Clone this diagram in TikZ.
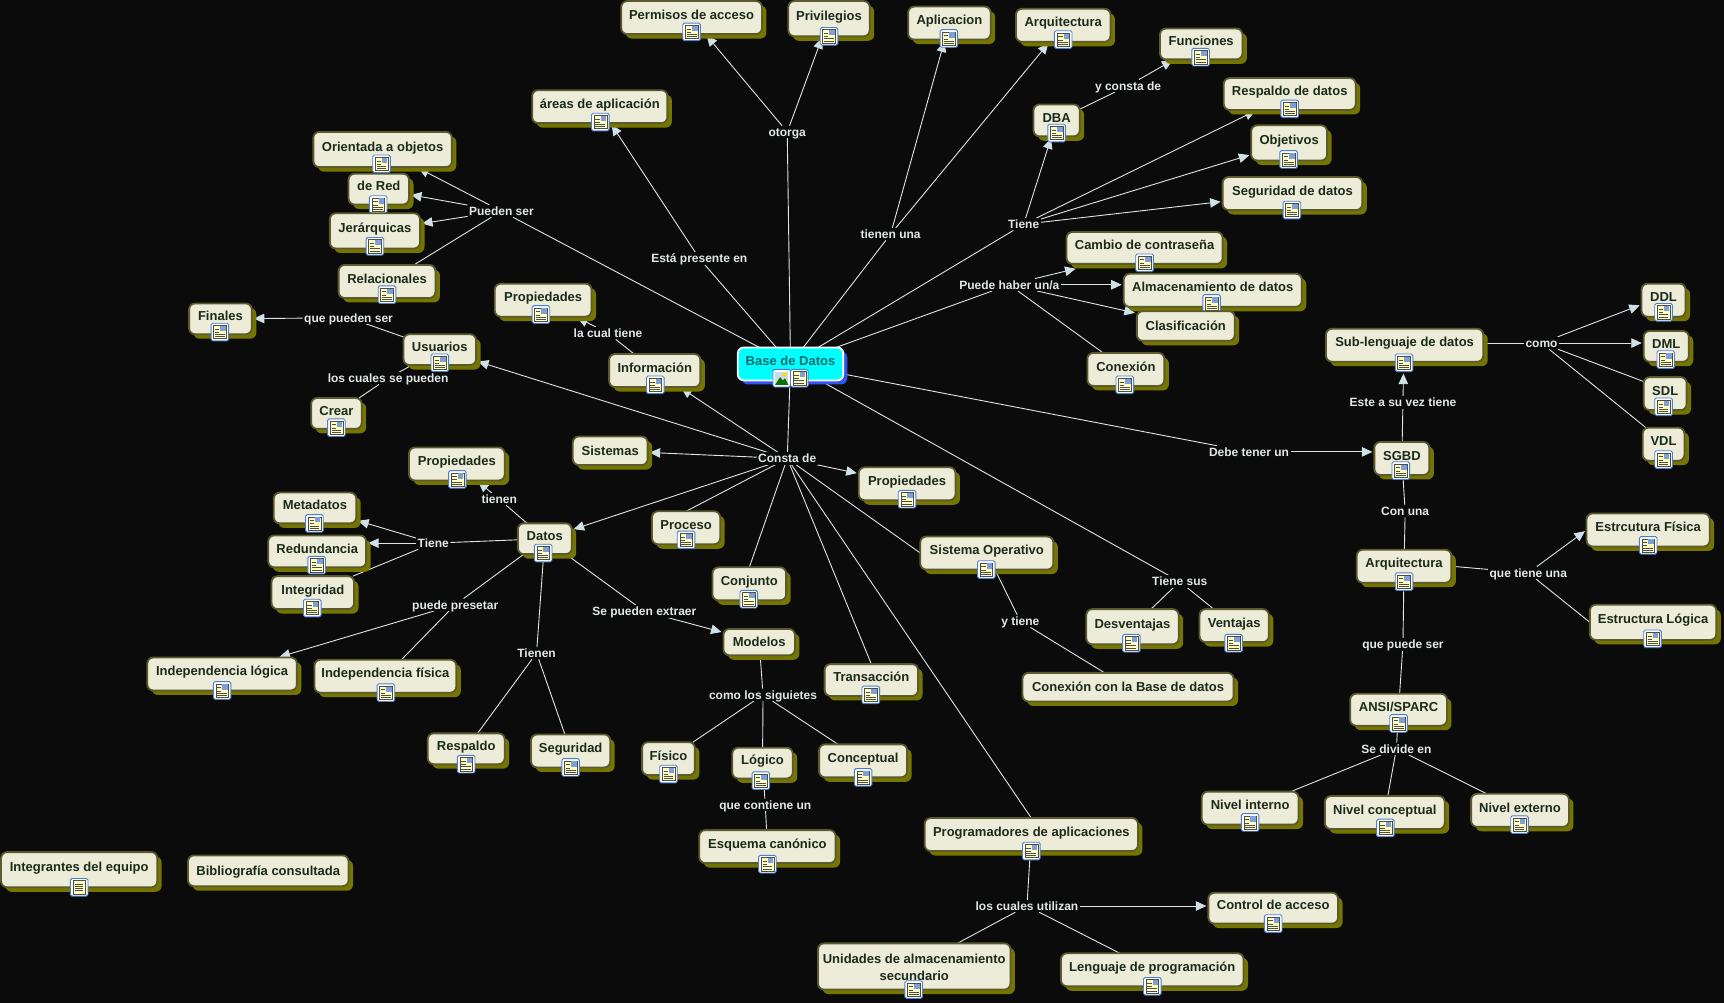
\documentclass[tikz,border=0pt]{standalone}
\usepackage{fontspec}
\setmainfont{Liberation Sans}
\usetikzlibrary{arrows.meta,shadows,backgrounds,calc}
\definecolor{pagebg}{HTML}{0B0B0B}
\definecolor{boxfill}{HTML}{ECECD8}
\definecolor{boxedge}{HTML}{5A5A2E}
\definecolor{boxshadow}{HTML}{757500}
\definecolor{boxtext}{HTML}{1B2A1B}
\definecolor{lnk}{HTML}{E0E4E4}
\definecolor{tipc}{HTML}{CFE0E8}
\definecolor{lbltext}{HTML}{E2E7E7}
\definecolor{iconedge}{HTML}{4A7FD0}
\definecolor{docy}{HTML}{FFFFC4}
\definecolor{basecyan}{HTML}{00FFFF}
\definecolor{baseshadow}{HTML}{3355EE}
\definecolor{basetext}{HTML}{006B6B}
\definecolor{imgsq}{HTML}{7F9FD8}
\tikzset{
  cbox/.style={draw=boxedge,line width=1.8pt,fill=boxfill,rounded corners=6pt,inner sep=0pt,outer sep=0pt,
    text=boxtext,font=\fontsize{13}{15}\selectfont\bfseries,
    copy shadow={shadow xshift=4.5pt,shadow yshift=-4.5pt,fill=boxshadow,draw=none}},
  basebox/.style={draw=white,line width=1.8pt,fill=basecyan,rounded corners=6pt,inner sep=0pt,outer sep=0pt,
    text=basetext,font=\fontsize{13}{15}\selectfont\bfseries,
    copy shadow={shadow xshift=4pt,shadow yshift=-4pt,fill=baseshadow,draw=none}},
  lbl/.style={fill=pagebg,text=lbltext,font=\fontsize{12}{14}\selectfont\bfseries,inner xsep=1.5pt,inner ysep=1.5pt,outer sep=0pt,text height=0.9em,text depth=0.04em},
  conn/.style={draw=lnk,line width=0.9pt},
  arr/.style={conn,shorten >=2pt,-{Triangle[length=10.5pt,width=9.5pt,color=tipc]}},
  pics/docicon/.style={code={
    \draw[iconedge,line width=0.9pt,fill=white,rounded corners=1.5pt] (-8,-8) rectangle (8,8);
    \draw[black!70,line width=0.4pt,fill=docy] (-5.8,-6) rectangle (5.8,6);
    \fill[imgsq] (0.3,-5.5) rectangle (5.4,-0.8);
    \draw[black!70,line width=0.45pt] (-4.5,-2.8) -- (-0.6,-2.8) (-4.5,0.3) -- (-0.6,0.3) (-4.5,2.2) -- (4.5,2.2) (-4.5,4.2) -- (4.5,4.2);
  }},
  pics/plaindoc/.style={code={
    \draw[iconedge,line width=0.9pt,fill=white,rounded corners=1.5pt] (-8,-8) rectangle (8,8);
    \draw[black!70,line width=0.4pt,fill=docy] (-5.5,-6.3) rectangle (5.5,6.3);
    \draw[black!70,line width=0.45pt] (-3.5,-3) -- (3.5,-3) (-3.5,-1) -- (3.5,-1) (-3.5,1) -- (3.5,1) (-3.5,3) -- (3.5,3);
  }},
  pics/imgicon/.style={code={
    \draw[iconedge,line width=0.9pt,fill=white,rounded corners=1.5pt] (-8,-8) rectangle (8,8);
    \fill[imgsq!40] (-6,-6) rectangle (6,6);
    \fill[green!45!black] (-6,6) -- (-1.5,-1) -- (1,2) -- (3,0) -- (6,6) -- cycle;
    \fill[yellow!80!orange] (2.5,-3.2) circle (2);
  }}
}
% no icon: name x1 y1 x2 y2 text
\newcommand{\cn}[6]{%
  \pgfmathsetmacro{\cxx}{(#2+#4)/2}\pgfmathsetmacro{\cyy}{(#3+#5)/2}%
  \pgfmathsetmacro{\cww}{(#4-#2)*1.0995}\pgfmathsetmacro{\chh}{(#5-#3)*1.0995}%
  \node[cbox,minimum width=\cww pt,minimum height=\chh pt] (#1) at (\cxx,\cyy)
    {\smash{\raisebox{-0.36em}{#6}}};}
% box with raised text, no icon drawn: name x1 y1 x2 y2 text
\newcommand{\cj}[6]{%
  \pgfmathsetmacro{\cxx}{(#2+#4)/2}\pgfmathsetmacro{\cyy}{(#3+#5)/2}%
  \pgfmathsetmacro{\cww}{(#4-#2)*1.0995}\pgfmathsetmacro{\chh}{(#5-#3)*1.0995}%
  \node[cbox,minimum width=\cww pt,minimum height=\chh pt] (#1) at (\cxx,\cyy)
    {\smash{\raisebox{\dimexpr 3pt-0.36em\relax}{#6}}};}
% with icon: name x1 y1 x2 y2 text iconx icony
\newcommand{\ci}[8]{\cj{#1}{#2}{#3}{#4}{#5}{#6}\pic at (#7,#8) {docicon};}
\begin{document}
\begin{tikzpicture}[x=1.0995pt,y=-1.0995pt]
\useasboundingbox (0,0) rectangle (1568,912);
\begin{scope}[on background layer]
\fill[pagebg] (0,0) rectangle (1568,912);
\end{scope}
% central node
\node[basebox,minimum width=105.5pt,minimum height=33pt] (base) at (719,331)
  {\smash{\raisebox{\dimexpr 3pt-0.36em\relax}{Base de Datos}}};
\pic at (711,344) {imgicon};
\pic at (727,344) {docicon};
% concepts
\ci{permisos}{565}{1}{693}{31}{Permisos de acceso}{629}{29}
\ci{privilegios}{717}{1}{791}{33}{Privilegios}{754}{33}
\ci{aplicacion}{826}{6}{901}{36}{Aplicacion}{863}{35}
\ci{arqa}{924}{8}{1010}{38}{Arquitectura}{967}{36}
\ci{funciones}{1055}{26}{1130}{54}{Funciones}{1092}{52}
\ci{respaldod}{1113}{71}{1233}{100}{Respaldo de datos}{1173}{99}
\ci{objetivos}{1138}{114}{1207}{146}{Objetivos}{1172}{145}
\ci{seguridadd}{1112}{161}{1239}{191}{Seguridad de datos}{1175}{191}
\ci{dba}{940}{95}{982}{124}{DBA}{961}{121}
\ci{areas}{484}{82}{607}{112}{áreas de aplicación}{546}{111}
\ci{orientada}{285}{120}{411}{152}{Orientada a objetos}{347}{149}
\ci{dered}{317}{158}{372}{186}{de Red}{344}{186}
\ci{jerarquicas}{300}{194}{382}{226}{Jerárquicas}{341}{224}
\ci{relacionales}{308}{241}{396}{271}{Relacionales}{352}{268}
\ci{propa}{450}{258}{538}{288}{Propiedades}{492}{286}
\ci{finales}{172}{276}{229}{304}{Finales}{200}{302}
\ci{usuarios}{367}{304}{433}{332}{Usuarios}{400}{330}
\ci{informacion}{554}{322}{637}{352}{Información}{596}{350}
\ci{crear}{283}{362}{329}{390}{Crear}{306}{389}
\cn{sistemas}{521}{397}{589}{423}{Sistemas}
\ci{propb}{372}{407}{459}{437}{Propiedades}{416}{436}
\ci{metadatos}{249}{448}{324}{476}{Metadatos}{286}{476}
\ci{redundancia}{244}{487}{333}{516}{Redundancia}{288}{514}
\ci{integridad}{247}{524}{322}{554}{Integridad}{284}{553}
\ci{datos}{471}{476}{520}{504}{Datos}{494}{503}
\ci{proceso}{593}{465}{655}{495}{Proceso}{624}{491}
\ci{propc}{781}{425}{869}{455}{Propiedades}{825}{454}
\ci{conjunto}{648}{516}{715}{546}{Conjunto}{681}{545}
\ci{sistemaop}{837}{488}{958}{518}{Sistema Operativo}{897}{518}
\cn{modelos}{658}{572}{723}{596}{Modelos}
\ci{desventajas}{988}{554}{1072}{586}{Desventajas}{1029}{585}
\ci{ventajas}{1091}{554}{1154}{584}{Ventajas}{1122}{585}
\cn{conexionbd}{930}{612}{1122}{638}{Conexión con la Base de datos}
\ci{transaccion}{750}{604}{835}{633}{Transacción}{792}{632}
\ci{indlogica}{134}{598}{270}{628}{Independencia lógica}{202}{628}
\ci{indfisica}{286}{600}{415}{630}{Independencia física}{351}{630}
\ci{respaldo}{389}{667}{459}{695}{Respaldo}{424}{695}
\ci{seguridad}{483}{668}{555}{698}{Seguridad}{519}{698}
\ci{fisico}{584}{675}{632}{705}{Físico}{608}{704}
\ci{logico}{666}{680}{721}{708}{Lógico}{692}{710}
\ci{conceptual}{745}{677}{825}{707}{Conceptual}{785}{707}
\ci{esquema}{636}{755}{760}{785}{Esquema canónico}{698}{786}
\ci{programadores}{841}{744}{1035}{774}{Programadores de aplicaciones}{938}{774}
\ci{control}{1099}{812}{1217}{840}{Control de acceso}{1158}{840}
\cn{unidades}{744}{858}{919}{900}{\raisebox{-9pt}{\shortstack[c]{Unidades de almacenamiento\\[4pt]secundario}}}
\pic at (831,900) {docicon};
\ci{lenguaje}{965}{867}{1131}{897}{Lenguaje de programación}{1048}{897}
\cj{integrantes}{1}{775}{143}{807}{Integrantes del equipo}
\cn{biblio}{171}{778}{317}{806}{Bibliografía consultada}
\ci{cambio}{970}{211}{1112}{240}{Cambio de contraseña}{1041}{239}
\ci{almacen}{1022}{249}{1184}{279}{Almacenamiento de datos}{1102}{276}
\cn{clasif}{1034}{283}{1123}{310}{Clasificación}
\ci{conexion}{989}{321}{1059}{351}{Conexión}{1023}{350}
\ci{sublen}{1206}{299}{1349}{329}{Sub-lenguaje de datos}{1277}{330}
\ci{ddl}{1493}{258}{1533}{288}{DDL}{1513}{284}
\ci{dml}{1495}{301}{1536}{329}{DML}{1515}{327}
\ci{sdl}{1495}{343}{1534}{373}{SDL}{1513}{370}
\ci{vdl}{1494}{389}{1532}{419}{VDL}{1513}{418}
\ci{sgbd}{1250}{402}{1300}{432}{SGBD}{1274}{428}
\ci{arqb}{1234}{500}{1320}{530}{Arquitectura}{1277}{529}
\ci{fisica}{1443}{467}{1555}{497}{Estrcutura Física}{1499}{496}
\ci{logica}{1446}{550}{1561}{582}{Estructura Lógica}{1503}{581}
\ci{ansi}{1228}{631}{1316}{660}{ANSI/SPARC}{1272}{658}
\ci{ninterno}{1093}{720}{1181}{750}{Nivel interno}{1137}{748}
\ci{nconcept}{1205}{724}{1314}{754}{Nivel conceptual}{1260}{753}
\ci{nexterno}{1338}{722}{1427}{752}{Nivel externo}{1382}{750}
% the one plain document icon
\pic at (72,807) {plaindoc};
% linking phrases
\node[lbl] (otorga) at (716,120) {otorga};
\node[lbl] (tienenuna) at (810,213) {tienen una};
\node[lbl] (tienea) at (931,204) {Tiene};
\node[lbl] (yconsta) at (1026,78) {y consta de};
\node[lbl] (presente) at (636,235) {Está presente en};
\node[lbl] (pueden) at (456,192) {Pueden ser};
\node[lbl] (haber) at (918,259) {Puede haber un/a};
\node[lbl] (lacual) at (553,303) {la cual tiene};
\node[lbl] (quepueden) at (317,289) {que pueden ser};
\node[lbl] (loscuales) at (353,344) {los cuales se pueden};
\node[lbl] (consta) at (716,417) {Consta de};
\node[lbl] (debe) at (1136,411) {Debe tener un};
\node[lbl] (estea) at (1276,366) {Este a su vez tiene};
\node[lbl] (comoa) at (1402,312) {como};
\node[lbl] (conuna) at (1278,465) {Con una};
\node[lbl] (quetiene) at (1390,521) {que tiene una};
\node[lbl] (quepuede) at (1276,586) {que puede ser};
\node[lbl] (divide) at (1270,681) {Se divide en};
\node[lbl] (tienesus) at (1073,529) {Tiene sus};
\node[lbl] (ytiene) at (928,565) {y tiene};
\node[lbl] (tienen) at (454,454) {tienen};
\node[lbl] (tieneb) at (394,494) {Tiene};
\node[lbl] (presetar) at (414,550) {puede presetar};
\node[lbl] (tienenb) at (488,594) {Tienen};
\node[lbl] (extraer) at (586,556) {Se pueden extraer};
\node[lbl] (comob) at (694,632) {como los siguietes};
\node[lbl] (contiene) at (696,732) {que contiene un};
\node[lbl] (utilizan) at (934,824) {los cuales utilizan};
% connectors
\begin{scope}[on background layer]
\foreach \a/\b in {base/otorga,base/tienenuna,base/tienea,base/presente,base/pueden,base/haber,base/consta,base/debe,base/tienesus,
  dba/yconsta,informacion/lacual,usuarios/quepueden,usuarios/loscuales,loscuales/crear,
  pueden/relacionales,haber/conexion,
  tienesus/desventajas,tienesus/ventajas,sistemaop/ytiene,ytiene/conexionbd,
  datos/tienen,datos/tieneb,tieneb/integridad,datos/presetar,presetar/indfisica,datos/tienenb,tienenb/respaldo,tienenb/seguridad,datos/extraer,
  modelos/comob,comob/fisico,comob/logico,comob/conceptual,logico/contiene,contiene/esquema,
  programadores/utilizan,utilizan/unidades,utilizan/lenguaje,
  sgbd/estea,sgbd/conuna,conuna/arqb,arqb/quepuede,quepuede/ansi,
  ansi/divide,divide/ninterno,divide/nconcept,divide/nexterno}
  {\draw[conn] (\a) -- (\b);}
\foreach \a/\b in {otorga/permisos,otorga/privilegios,tienenuna/aplicacion,tienenuna/arqa,tienea/dba,tienea/respaldod,tienea/objetivos,tienea/seguridadd,
  yconsta/funciones,presente/areas,pueden/orientada,pueden/dered,pueden/jerarquicas,
  lacual/propa,quepueden/finales,consta/usuarios,consta/informacion,consta/sistemas,consta/datos,consta/propc,
  tienen/propb,tieneb/metadatos,presetar/indlogica,extraer/modelos}
  {\draw[arr] (\a) -- (\b);}
% connectors that meet a box at a given side
\draw[conn] (consta) -- (proceso.north);
\draw[conn] (consta) -- (conjunto.north);
\draw[conn] (consta) -- (transaccion.north);
\draw[conn] (consta) -- (programadores.north);
\draw[conn] (consta) -- (sistemaop.west);
\draw[conn] ($(sublen.east)+(0,-2)$) -- (comoa);
\draw[conn] (comoa) -- ($(sdl.west)+(0,-11)$);
\draw[conn] (comoa) -- ($(vdl.north west)+(3,0)$);
\draw[conn] (arqb.east) -- (quetiene);
\draw[conn] (quetiene) -- (logica.west);
\draw[arr] (comoa) -- ($(ddl.west)+(0,4)$);
\draw[arr] (comoa) -- ($(dml.west)+(0,-3)$);
\draw[arr] (quetiene) -- (fisica.west);
\draw[arr] (estea) -- ($(sublen.south)+(-1,9)$);
\draw[arr] (debe) -- ($(sgbd.west)+(0,-6)$);
\draw[arr] (haber) -- ($(cambio.south west)+(10,4)$);
\draw[arr] (haber) -- ($(almacen.west)+(0,-5)$);
\draw[arr] (haber) -- ($(clasif.north west)+(0,2)$);
\draw[arr] (tieneb) -- ($(redundancia.east)+(0,-7.5)$);
\draw[arr] (utilizan) -- ($(control.west)+(0,-2)$);
\end{scope}
\end{tikzpicture}
\end{document}
